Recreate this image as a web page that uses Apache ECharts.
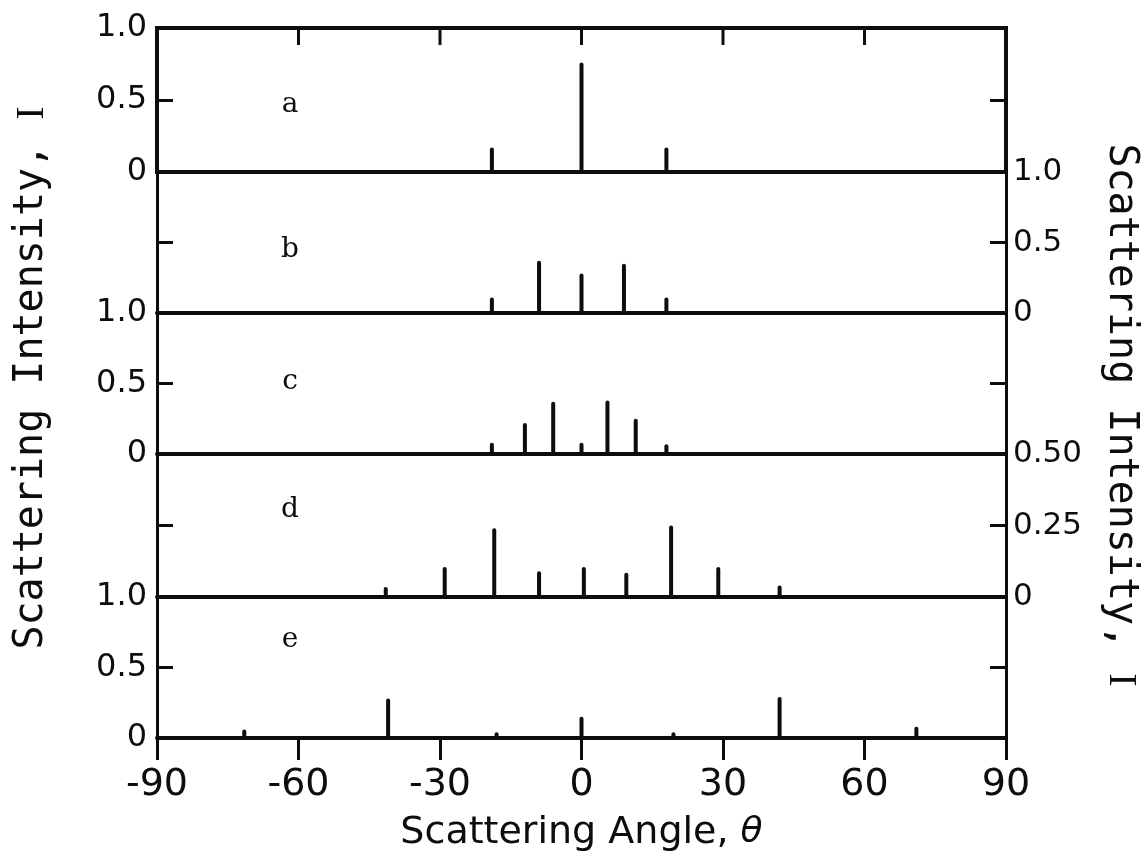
<!DOCTYPE html>
<html>
<head>
<meta charset="utf-8">
<script src="https://cdn.jsdelivr.net/npm/echarts@6/dist/echarts.min.js"></script>
<style>
html, body { margin: 0; background: #fff; }
#chart { width: 1144px; height: 865px; }
</style>
</head>
<body>
<div id="chart"></div>
<script>
// peak positions (deg) and heights for each panel
var anglesA = [-19, 0, 18];
var intensA = [0.17, 0.76, 0.17];
var anglesB = [-19, -9, 0, 9, 18];
var intensB = [0.11, 0.37, 0.28, 0.35, 0.11];
var anglesC = [-19, -12, -6, 0, 5.5, 11.5, 18];
var intensC = [0.08, 0.22, 0.37, 0.08, 0.38, 0.25, 0.07];
var anglesD = [-41.5, -29, -18.5, -9, 0.5, 9.5, 19, 29, 42];
var intensD = [0.035, 0.105, 0.24, 0.09, 0.105, 0.085, 0.25, 0.105, 0.04];
var anglesE = [-71.5, -41, -18, 0, 19.5, 42, 71];
var intensE = [0.06, 0.28, 0.04, 0.15, 0.04, 0.29, 0.08];

var panelNames = ['a', 'b', 'c', 'd', 'e'];
var panelMax = [1, 1, 1, 0.5, 1];
var labelsFull = ['0', '0.5', '1.0'];   // left axes of a, c, e and right of b
var labelsHalf = ['0', '0.25', '0.50']; // right axis of d
var topTicks = [-60, -30, 0, 30, 60];   // inward ticks on the top frame
var xMin = -90, xMax = 90, xStep = 30;

var angles = [anglesA, anglesB, anglesC, anglesD, anglesE];
var intens = [intensA, intensB, intensC, intensD, intensE];

var ink = '#0d0d0d';
var gridTop = [28, 172, 313, 454, 597];
var gridH = [144, 141, 141, 143, 141];
var leftShown = [true, false, true, false, true];
var rightShown = [false, true, false, true, false];

var grids = [], xAxes = [], yAxes = [], series = [];

for (var i = 0; i < 5; i++) {
    grids.push({ left: 157, right: 138, top: gridTop[i], height: gridH[i] });

    var last = (i == 4);
    xAxes.push({
        type: 'value', gridIndex: i, min: xMin, max: xMax, interval: xStep,
        position: 'bottom',
        axisLine: { show: true, onZero: false, lineStyle: { color: ink, width: 4 } },
        axisTick: { show: last, inside: false, length: 22, lineStyle: { color: ink, width: 3 } },
        axisLabel: { show: last, margin: 28, color: ink, fontFamily: 'DejaVu Sans', fontSize: 38 },
        splitLine: { show: false },
        name: last ? 'Scattering Angle, {i|θ}' : '',
        nameLocation: 'middle', nameGap: 76,
        nameTextStyle: {
            color: ink, fontFamily: 'DejaVu Sans', fontSize: 38,
            rich: { i: { fontStyle: 'italic', fontFamily: 'DejaVu Sans', fontSize: 36, color: ink } }
        }
    });

    var lbl = (i == 3) ? labelsHalf : labelsFull;
    (function (lbl, max) {
        var fmt = function (v) { return lbl[Math.round(v / (max / 2))]; };
        yAxes.push({
            type: 'value', gridIndex: i, position: 'left', min: 0, max: max, interval: max / 2,
            axisLine: { show: true, onZero: false, lineStyle: { color: ink, width: 3 } },
            axisTick: { show: true, inside: true, length: 16, lineStyle: { color: ink, width: 3 } },
            axisLabel: { show: leftShown[i], margin: 10, color: ink, fontFamily: 'DejaVu Sans', fontSize: 32, formatter: fmt },
            splitLine: { show: false }
        });
        yAxes.push({
            type: 'value', gridIndex: i, position: 'right', min: 0, max: max, interval: max / 2,
            axisLine: { show: true, onZero: false, lineStyle: { color: ink, width: 3 } },
            axisTick: { show: true, inside: true, length: 16, lineStyle: { color: ink, width: 3 } },
            axisLabel: { show: rightShown[i], margin: 7, color: ink, fontFamily: 'DejaVu Sans', fontSize: 31, formatter: fmt },
            splitLine: { show: false }
        });
    })(lbl, panelMax[i]);

    var pts = [];
    for (var k = 0; k < angles[i].length; k++) pts.push([angles[i][k], intens[i][k]]);
    series.push({
        type: 'bar', name: panelNames[i], xAxisIndex: i, yAxisIndex: i * 2,
        barWidth: 4, data: pts, silent: true,
        itemStyle: { color: ink, borderRadius: [2, 2, 0, 0] }
    });
}

// frame for the top of panel a
grids[0].show = true;
grids[0].borderColor = ink;
grids[0].borderWidth = 4;
grids[0].backgroundColor = 'transparent';

// short inward ticks hanging from the top frame of panel a
series.push({
    type: 'custom', xAxisIndex: 0, yAxisIndex: 0, silent: true, clip: false,
    data: topTicks.map(function (v) { return [v, panelMax[0]]; }),
    renderItem: function (params, api) {
        var p = api.coord([api.value(0), api.value(1)]);
        return {
            type: 'line',
            shape: { x1: p[0], y1: p[1], x2: p[0], y2: p[1] + 17 },
            style: { stroke: ink, lineWidth: 3 }
        };
    }
});

var letterY = [105, 250, 382, 510, 640];
var graphics = [];
for (var j = 0; j < 5; j++) {
    graphics.push({
        type: 'text', x: 290, y: letterY[j],
        style: { text: panelNames[j], fill: ink, font: '28px "DejaVu Serif"', textAlign: 'center', textVerticalAlign: 'middle' }
    });
}
graphics.push({
    type: 'text', x: 32, y: 378, rotation: Math.PI / 2,
    style: {
        text: 'Scattering Intensity, {m|I}', fill: ink, font: '40px "DejaVu Sans Mono"',
        textAlign: 'center', textVerticalAlign: 'middle',
        rich: { m: { fontFamily: 'Liberation Serif', fontSize: 40, fill: ink } }
    }
});
graphics.push({
    type: 'text', x: 1120, y: 415, rotation: -Math.PI / 2,
    style: {
        text: 'Scattering Intensity, {m|I}', fill: ink, font: '40px "DejaVu Sans Mono"',
        textAlign: 'center', textVerticalAlign: 'middle',
        rich: { m: { fontFamily: 'Liberation Serif', fontSize: 40, fill: ink } }
    }
});

var myChart = echarts.init(document.getElementById('chart'), null, { renderer: 'canvas' });
myChart.setOption({
    backgroundColor: '#fff',
    animation: false,
    grid: grids,
    xAxis: xAxes,
    yAxis: yAxes,
    series: series,
    graphic: graphics
});
</script>
</body>
</html>
